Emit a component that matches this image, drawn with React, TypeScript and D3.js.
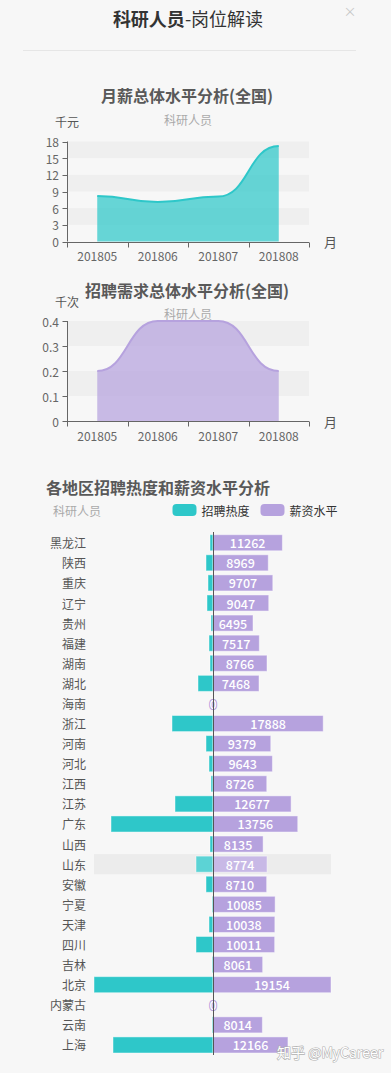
import React, { useEffect, useRef } from 'react'
import * as d3 from 'd3'

// monthly trend data
const months = ['201805', '201806', '201807', '201808']
const salaryByMonth = [8.2, 7.1, 8.1, 17.2] // 千元
const demandByMonth = [0.2, 0.4, 0.4, 0.2] // 千次
const salaryTicks = [0, 3, 6, 9, 12, 15, 18]
const demandTicks = [0, 0.1, 0.2, 0.3, 0.4]

// regional data, top to bottom
const regions = [
  '黑龙江', '陕西', '重庆', '辽宁', '贵州', '福建', '湖南', '湖北', '海南', '浙江', '河南', '河北', '江西',
  '江苏', '广东', '山西', '山东', '安徽', '宁夏', '天津', '四川', '吉林', '北京', '内蒙古', '云南', '上海',
]
const regionHeat = [3, 7, 5, 6, 2, 4, 3, 15, 0, 41, 7, 4, 2, 38, 102, 3, 17, 7, 1, 4, 17, 1, 119, 0, 1, 100]
const regionSalary = [
  11262, 8969, 9707, 9047, 6495, 7517, 8766, 7468, 0, 17888, 9379, 9643, 8726,
  12677, 13756, 8135, 8774, 8710, 10085, 10038, 10011, 8061, 19154, 0, 8014, 12166,
]
const hovered = '山东'

const TEAL = '#2ec7c9'
const PURPLE = '#b6a2de'
const FONT = '"Noto Sans CJK SC", "Noto Sans", sans-serif'
const W = 391
const H = 1073

function drawTrend(svg, opt) {
  const g = svg.append('g')
  const x = d3.scaleBand().domain(months).range([67, 309])
  const y = d3.scaleLinear().domain([0, opt.ticks[opt.ticks.length - 1]]).range([opt.bottom, opt.top])

  g.append('text').attr('x', 187).attr('y', opt.titleY).attr('text-anchor', 'middle')
    .attr('dominant-baseline', 'central').attr('font-size', 16).attr('font-weight', 'bold')
    .attr('fill', '#595959').text(opt.title)
  g.append('text').attr('x', 188).attr('y', opt.subY).attr('text-anchor', 'middle')
    .attr('dominant-baseline', 'central').attr('font-size', 12).attr('fill', '#aaa').text('科研人员')

  // split areas
  for (let i = 0; i < opt.ticks.length - 1; i++) {
    if (i % 2 === 1) {
      g.append('rect').attr('x', 67).attr('width', 242)
        .attr('y', y(opt.ticks[i + 1])).attr('height', y(opt.ticks[i]) - y(opt.ticks[i + 1]))
        .attr('fill', '#efefef')
    }
  }

  const cx = (d) => x(d) + x.bandwidth() / 2
  const area = d3.area().curve(d3.curveBumpX)
    .x((d, i) => cx(months[i])).y0(opt.bottom).y1((d) => y(d))
  const line = d3.line().curve(d3.curveBumpX)
    .x((d, i) => cx(months[i])).y((d) => y(d))
  g.append('path').attr('d', area(opt.values)).attr('fill', opt.color).attr('fill-opacity', 0.72)
  g.append('path').attr('d', line(opt.values)).attr('fill', 'none').attr('stroke', opt.color).attr('stroke-width', 2)

  // y axis
  g.append('line').attr('x1', 67.5).attr('x2', 67.5).attr('y1', opt.top).attr('y2', opt.bottom).attr('stroke', '#666')
  opt.ticks.forEach((t) => {
    g.append('line').attr('x1', 62.5).attr('x2', 67.5).attr('y1', Math.round(y(t)) + 0.5).attr('y2', Math.round(y(t)) + 0.5).attr('stroke', '#666')
    g.append('text').attr('x', 59).attr('y', y(t)).attr('text-anchor', 'end').attr('dominant-baseline', 'central')
      .attr('font-size', 12).attr('fill', '#666').text(t)
  })
  g.append('text').attr('x', 67).attr('y', opt.top - 20).attr('text-anchor', 'middle')
    .attr('dominant-baseline', 'central').attr('font-size', 12).attr('fill', '#555').text(opt.unit)

  // x axis
  const yb = Math.round(opt.bottom) + 0.5
  g.append('line').attr('x1', 67).attr('x2', 309).attr('y1', yb).attr('y2', yb).attr('stroke', '#666')
  const edges = months.map((m) => x(m)).concat([x(months[months.length - 1]) + x.bandwidth()])
  edges.forEach((e) => {
    g.append('line').attr('x1', Math.round(e) + 0.5).attr('x2', Math.round(e) + 0.5).attr('y1', yb).attr('y2', yb + 5).attr('stroke', '#666')
  })
  months.forEach((m) => {
    g.append('text').attr('x', cx(m)).attr('y', opt.bottom + 14).attr('text-anchor', 'middle')
      .attr('dominant-baseline', 'central').attr('font-size', 12).attr('fill', '#666').text(m)
  })
  g.append('text').attr('x', 324).attr('y', opt.bottom).attr('dominant-baseline', 'central')
    .attr('font-size', 13).attr('fill', '#555').text('月')
}

function drawRegions(svg) {
  const g = svg.append('g')
  const y = d3.scaleBand().domain(regions).range([532.7, 1055]).paddingInner(0.2).paddingOuter(0.1)
  const xs = d3.scaleLinear().domain([0, d3.max(regionSalary)]).range([213, 331])
  const xh = d3.scaleLinear().domain([0, d3.max(regionHeat)]).range([213, 94])

  g.append('text').attr('x', 46).attr('y', 487).attr('dominant-baseline', 'central')
    .attr('font-size', 16).attr('font-weight', 'bold').attr('fill', '#595959').text('各地区招聘热度和薪资水平分析')
  g.append('text').attr('x', 53).attr('y', 510).attr('dominant-baseline', 'central')
    .attr('font-size', 12).attr('fill', '#aaa').text('科研人员')

  const legend = [['招聘热度', TEAL, 172.5], ['薪资水平', PURPLE, 260.5]]
  legend.forEach(([name, c, lx]) => {
    g.append('rect').attr('x', lx).attr('y', 504).attr('width', 24).attr('height', 12).attr('rx', 4).attr('fill', c)
    g.append('text').attr('x', lx + 29).attr('y', 510).attr('dominant-baseline', 'central')
      .attr('font-size', 12).attr('fill', '#333').text(name)
  })

  // hover band
  const step = y.step()
  g.append('rect').attr('x', 94).attr('width', 237)
    .attr('y', y(hovered) + y.bandwidth() / 2 - step / 2).attr('height', step).attr('fill', '#ececec')

  regions.forEach((r, i) => {
    const hot = r === hovered
    const tc = hot ? d3.interpolateRgb(TEAL, '#fff')(0.22) : TEAL
    const pc = hot ? d3.interpolateRgb(PURPLE, '#fff')(0.25) : PURPLE
    const by = y(r)
    const bh = y.bandwidth()
    g.append('rect').attr('x', xh(regionHeat[i])).attr('width', xh(0) - xh(regionHeat[i]))
      .attr('y', by).attr('height', bh).attr('fill', tc)
      .attr('stroke', 'rgba(255,255,255,0.45)').attr('stroke-width', regionHeat[i] ? 1 : 0)
    g.append('rect').attr('x', xs(0)).attr('width', xs(regionSalary[i]) - xs(0))
      .attr('y', by).attr('height', bh).attr('fill', pc)
      .attr('stroke', 'rgba(255,255,255,0.45)').attr('stroke-width', regionSalary[i] ? 1 : 0)
    g.append('text').attr('x', (xs(0) + xs(regionSalary[i])) / 2).attr('y', by + bh / 2)
      .attr('text-anchor', 'middle').attr('dominant-baseline', 'central')
      .attr('font-size', 12.5).attr('font-weight', 500).attr('fill', '#fff').attr('stroke', pc).attr('stroke-width', 2)
      .attr('paint-order', 'stroke').text(regionSalary[i])
    g.append('text').attr('x', 86).attr('y', by + bh / 2).attr('text-anchor', 'end')
      .attr('dominant-baseline', 'central').attr('font-size', 12).attr('fill', '#555').text(r)
  })

  g.append('line').attr('x1', 213.5).attr('x2', 213.5).attr('y1', 532).attr('y2', 1055).attr('stroke', '#555')
}

export default function App() {
  const ref = useRef(null)

  useEffect(() => {
    document.body.style.margin = '0'
    document.body.style.background = '#f7f7f7'
    const svg = d3.select(ref.current)
    svg.selectAll('*').remove()
    svg.attr('font-family', FONT)

    svg.append('rect').attr('width', W).attr('height', H).attr('fill', '#f7f7f7')

    const title = svg.append('text').attr('x', 188).attr('y', 18).attr('text-anchor', 'middle')
      .attr('dominant-baseline', 'central').attr('font-size', 18).attr('fill', '#333')
    title.append('tspan').attr('font-weight', 'bold').text('科研人员')
    title.append('tspan').text('-岗位解读')
    svg.append('text').attr('x', 350).attr('y', 10).attr('text-anchor', 'middle').attr('dominant-baseline', 'central')
      .attr('font-size', 13).attr('fill', '#c8c8c8').text('×')
    svg.append('line').attr('x1', 23).attr('x2', 356).attr('y1', 50.5).attr('y2', 50.5).attr('stroke', '#e6e6e6')

    drawTrend(svg, {
      title: '月薪总体水平分析(全国)', unit: '千元', titleY: 95, subY: 119,
      ticks: salaryTicks, values: salaryByMonth, top: 141.5, bottom: 241.5, color: TEAL,
    })
    drawTrend(svg, {
      title: '招聘需求总体水平分析(全国)', unit: '千次', titleY: 290, subY: 313,
      ticks: demandTicks, values: demandByMonth, top: 321, bottom: 421, color: PURPLE,
    })
    drawRegions(svg)

    svg.append('text').attr('x', 277).attr('y', 1052).attr('dominant-baseline', 'central')
      .attr('font-size', 14).attr('fill', '#fff').attr('stroke', '#b0b0b0').attr('stroke-width', 1.2)
      .attr('paint-order', 'stroke').text('知乎 @MyCareer')
  }, [])

  return (
    <svg ref={ref} width={W} height={H} style={{ display: 'block', position: 'absolute', left: 0, top: 0 }} />
  )
}
